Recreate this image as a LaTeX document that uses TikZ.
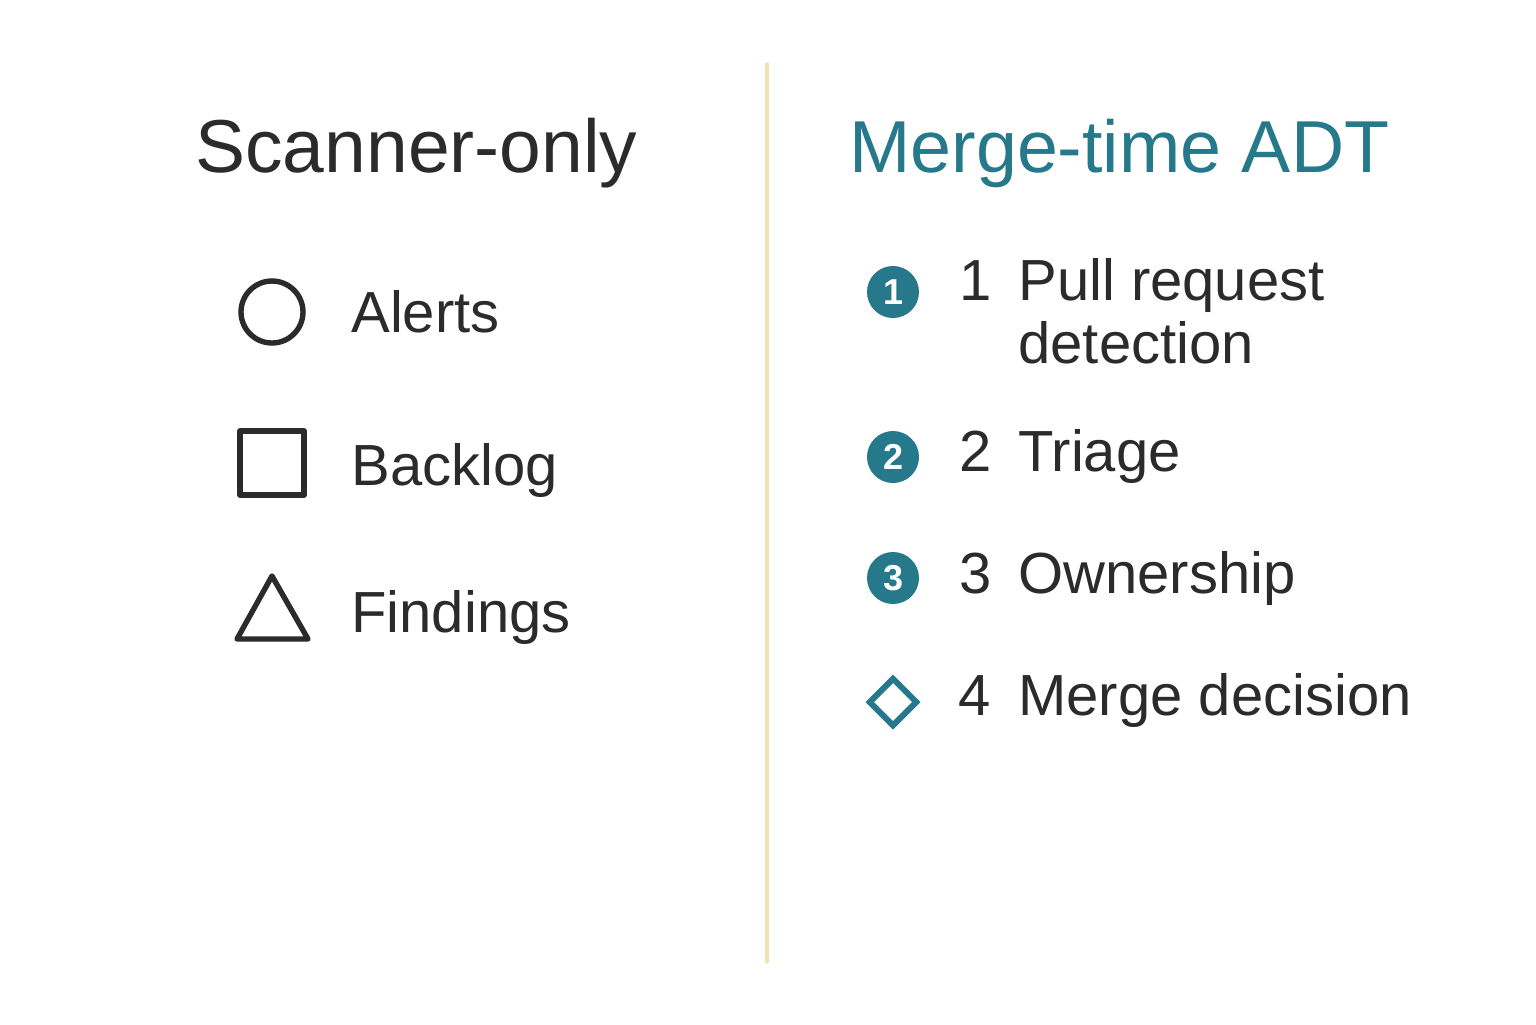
\documentclass[tikz,border=0pt]{standalone}
\usepackage{fontspec}
\usetikzlibrary{shapes.geometric}
\setmainfont{Liberation Sans}
\definecolor{ink}{HTML}{2B2B2B}
\definecolor{teal}{HTML}{25798A}
\definecolor{divider}{HTML}{EFE2B6}
\begin{document}
\begin{tikzpicture}[x=0.5pt,y=-0.5pt,
  titletext/.style={anchor=base west,inner sep=0,font=\fontsize{37.5}{40}\selectfont},
  itemtext/.style={anchor=base west,inner sep=0,text=ink,font=\fontsize{29}{32}\selectfont},
  shapeline/.style={draw=ink,line width=2.7pt,line join=round},
  badge/.style={circle,fill=teal,minimum size=26pt,inner sep=0,text=white,font=\fontsize{18}{18}\bfseries\selectfont}
]
\useasboundingbox[fill=white] (0,0) rectangle (1536,1024);
% divider
\draw[divider,line width=1.6pt,line cap=round] (767,64) coordinate (dtop) -- (767,962) coordinate (dbot);
% left column
\node[titletext,text=ink] (ltitle) at (195,172) {Scanner-only};
\node[shapeline,circle,minimum size=31pt,inner sep=0] (circ) at (272,312) {};
\node[itemtext] (alerts) at (351,332) {Alerts};
\node[shapeline,rectangle,minimum size=32pt,inner sep=0] (sq) at (272,463) {};
\node[itemtext] (backlog) at (351,485) {Backlog};
\draw[shapeline] (272,576) coordinate (tA) -- (237,639) coordinate (tB) -- (308,639) coordinate (tC) -- cycle;
\node[itemtext] (findings) at (351,632) {Findings};
% right column
\node[titletext,text=teal,font=\fontsize{36.8}{40}\selectfont] (rtitle) at (849,172) {Merge-time ADT};
\node[badge] (b1) at (893,292) {1};
\node[itemtext] (n1) at (959,300) {1};
\node[itemtext] (s1) at (1018,300) {Pull request};
\node[itemtext] (s1b) at (1018,363) {detection};
\node[badge] (b2) at (893,457) {2};
\node[itemtext] (n2) at (959,471) {2};
\node[itemtext] (s2) at (1018,471) {Triage};
\node[badge] (b3) at (893,578) {3};
\node[itemtext] (n3) at (959,593) {3};
\node[itemtext] (s3) at (1018,593) {Ownership};
\node[draw=teal,line width=3pt,diamond,inner sep=0,minimum width=24.5pt,minimum height=24.5pt] (dia) at (893,702) {};
\node[itemtext] (n4) at (958,715) {4};
\node[itemtext] (s4) at (1018,715) {Merge decision};
\end{tikzpicture}
\end{document}
